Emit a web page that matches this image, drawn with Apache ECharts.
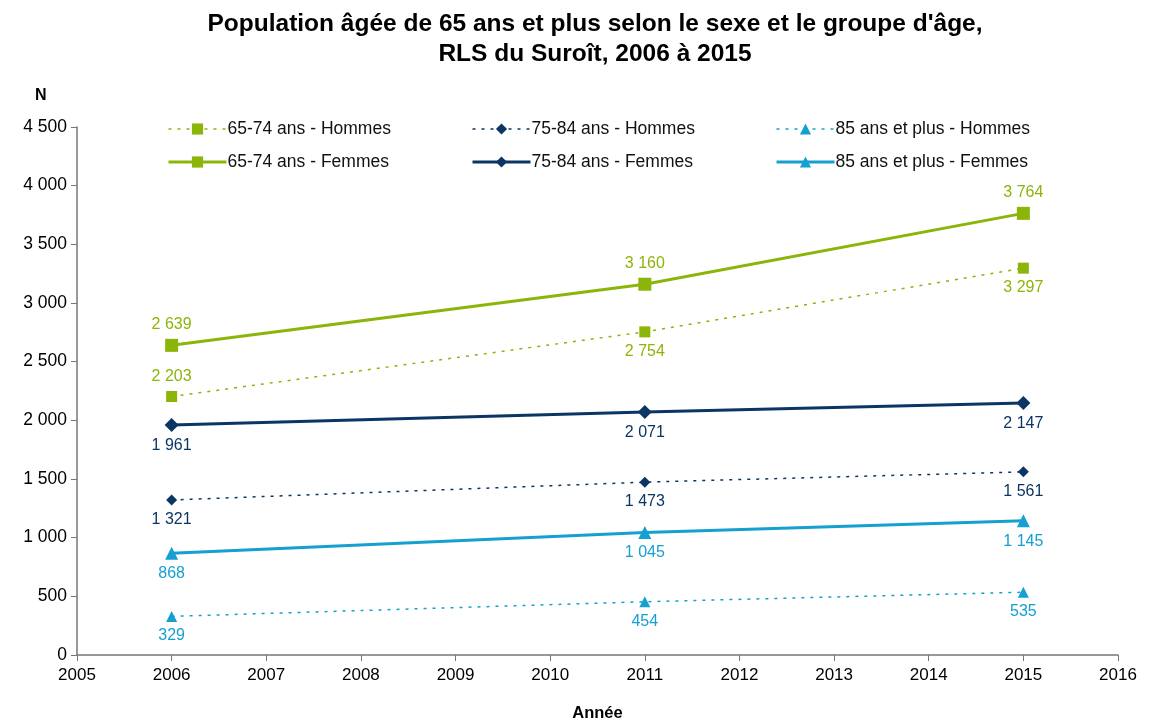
<!DOCTYPE html>
<html>
<head>
<meta charset="utf-8">
<script src="https://cdn.jsdelivr.net/npm/echarts@6/dist/echarts.min.js"></script>
<style>
  html, body { margin: 0; padding: 0; background: #fff; }
  #chart { width: 1164px; height: 721px; }
</style>
</head>
<body>
<div id="chart"></div>
<script>
var years = [2006, 2011, 2015];
var h6574 = [2203, 2754, 3297];
var f6574 = [2639, 3160, 3764];
var h7584 = [1321, 1473, 1561];
var f7584 = [1961, 2071, 2147];
var h85 = [329, 454, 535];
var f85 = [868, 1045, 1145];
// label position per point
var posH6574 = ['top', 'bottom', 'bottom'];

var GREEN = '#8cb50a', NAVY = '#0b3664', BLUE = '#15a0d1';
var FONT = 'Liberation Sans, Arial';

function fmt(v) {
  return String(v).replace(/\B(?=(\d{3})+(?!\d))/g, ' ');
}

function pts(vals, pos) {
  return vals.map(function (v, i) {
    var d = { value: [years[i], v] };
    if (pos) d.label = { position: pos[i] };
    return d;
  });
}

function line(name, vals, color, symbol, femme, labelPos, perPoint) {
  return {
    name: name,
    type: 'line',
    data: pts(vals, perPoint),
    symbol: symbol,
    symbolSize: femme ? (symbol === 'diamond' ? 14 : 13) : 11,
    itemStyle: { color: color },
    lineStyle: { color: color, width: femme ? 3 : 1.5, type: femme ? 'solid' : [3, 6] },
    label: {
      show: true,
      position: labelPos,
      distance: 6,
      color: color,
      fontSize: 16,
      fontFamily: FONT,
      formatter: function (p) { return fmt(p.value[1]); }
    },
    animation: false
  };
}

var chart = echarts.init(document.getElementById('chart'));
var legendBase = {
  orient: 'vertical',
  top: 115,
  itemWidth: 58,
  itemHeight: 14,
  itemGap: 15,
  selectedMode: false,
  lineStyle: { width: 'inherit' },
  textStyle: { fontSize: 17.5, color: '#111', fontFamily: FONT, padding: [0, 0, 0, -4] }
};
chart.setOption({
  legend: [
    Object.assign({ left: 162, data: ['65-74 ans - Hommes', '65-74 ans - Femmes'] }, legendBase),
    Object.assign({ left: 466, data: ['75-84 ans - Hommes', '75-84 ans - Femmes'] }, legendBase),
    Object.assign({ left: 770, data: ['85 ans et plus - Hommes', '85 ans et plus - Femmes'] }, legendBase)
  ],
  graphic: [{
    type: 'text', x: 595, y: 9,
    style: {
      text: "Population âgée de 65 ans et plus selon le sexe et le groupe d'âge,\nRLS du Suroît, 2006 à 2015",
      font: 'bold 24.5px Liberation Sans, Arial', fill: '#000', align: 'center', lineHeight: 30
    }
  }, {
    type: 'text', left: 35, top: 88,
    style: { text: 'N', font: 'bold 16px Liberation Sans, Arial', fill: '#000' }
  }],
  grid: { left: 77, right: 46, top: 127, bottom: 66, outerBoundsMode: 'none' },
  xAxis: {
    type: 'value',
    min: 2005, max: 2016, interval: 1,
    name: 'Année',
    nameLocation: 'middle',
    nameGap: 50,
    nameTextStyle: { fontWeight: 'bold', fontSize: 16.5, color: '#000', fontFamily: FONT },
    axisLine: { lineStyle: { color: '#777', width: 1.5 } },
    axisTick: { length: 6, lineStyle: { color: '#777' } },
    axisLabel: { fontSize: 17, color: '#000', margin: 12, fontFamily: FONT, formatter: function (v) { return String(v); } },
    splitLine: { show: false }
  },
  yAxis: {
    type: 'value',
    min: 0, max: 4500, interval: 500,
    axisLine: { show: true, lineStyle: { color: '#777', width: 1.5 } },
    axisTick: { show: true, length: 6, lineStyle: { color: '#777' } },
    axisLabel: { fontSize: 17.5, color: '#000', margin: 10, fontFamily: FONT, formatter: fmt },
    splitLine: { show: false }
  },
  series: [
    line('65-74 ans - Hommes', h6574, GREEN, 'rect', false, 'bottom', posH6574),
    line('65-74 ans - Femmes', f6574, GREEN, 'rect', true, 'top'),
    line('75-84 ans - Hommes', h7584, NAVY, 'diamond', false, 'bottom'),
    line('75-84 ans - Femmes', f7584, NAVY, 'diamond', true, 'bottom'),
    line('85 ans et plus - Hommes', h85, BLUE, 'triangle', false, 'bottom'),
    line('85 ans et plus - Femmes', f85, BLUE, 'triangle', true, 'bottom')
  ]
});
</script>
</body>
</html>
